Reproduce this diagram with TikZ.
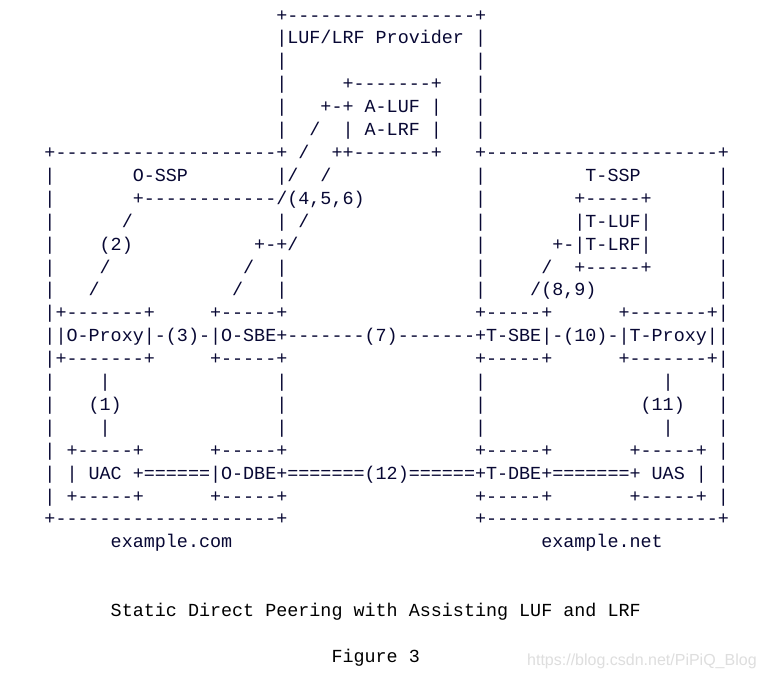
\documentclass[tikz,border=0pt]{standalone}
\usepackage{fontspec}
\newfontfamily\artfont[Ligatures=TeXOff]{Liberation Mono}
\newfontfamily\wmfont{Liberation Sans}
\definecolor{artcol}{RGB}{8,8,52}
\definecolor{wmcol}{RGB}{222,222,222}
\tikzset{
  art/.style={anchor=base west, inner sep=0pt, outer sep=0pt, font=\artfont\fontsize{18.4}{22}\selectfont, text=artcol},
  captxt/.style={art, text=black},
  wm/.style={anchor=base west, inner sep=0pt, font=\wmfont\fontsize{16}{18}\selectfont, text=wmcol}
}
\newcommand\seg[4]{\node[art] (#1) at ({44.48+11.04*#2},{21.1+22.9*#3}) {#4};}
\newcommand\capseg[4]{\node[captxt] (#1) at ({44.48+11.04*#2},{21.1+22.9*#3}) {#4};}
\begin{document}
\begin{tikzpicture}[x=1pt,y=-1pt]
\fill[white] (0,0) rectangle (763,677);
\useasboundingbox (0,0) rectangle (763,677);
% row 0-5: LUF/LRF provider
\seg{r0a}{21}{0}{+-----------------+}
\seg{r1a}{21}{1}{|LUF/LRF Provider |}
\seg{r2a}{21}{2}{|}\seg{r2b}{39}{2}{|}
\seg{r3a}{21}{3}{|}\seg{r3b}{27}{3}{+-------+}\seg{r3c}{39}{3}{|}
\seg{r4a}{21}{4}{|}\seg{r4b}{25}{4}{+-+ A-LUF |}\seg{r4c}{39}{4}{|}
\seg{r5a}{21}{5}{|}\seg{r5b}{24}{5}{/}\seg{r5c}{27}{5}{| A-LRF |}\seg{r5d}{39}{5}{|}
% row 6
\seg{r6a}{0}{6}{+--------------------+}\seg{r6b}{23}{6}{/}\seg{r6c}{26}{6}{++-------+}\seg{r6d}{39}{6}{+---------------------+}
% row 7
\seg{r7a}{0}{7}{|}\seg{r7b}{8}{7}{O-SSP}\seg{r7c}{21}{7}{|/}\seg{r7d}{25}{7}{/}\seg{r7e}{39}{7}{|}\seg{r7f}{49}{7}{T-SSP}\seg{r7g}{61}{7}{|}
% row 8
\seg{r8a}{0}{8}{|}\seg{r8b}{8}{8}{+------------/(4,5,6)}\seg{r8c}{39}{8}{|}\seg{r8d}{48}{8}{+-----+}\seg{r8e}{61}{8}{|}
% row 9
\seg{r9a}{0}{9}{|}\seg{r9b}{7}{9}{/}\seg{r9c}{21}{9}{|}\seg{r9d}{23}{9}{/}\seg{r9e}{39}{9}{|}\seg{r9f}{48}{9}{|T-LUF|}\seg{r9g}{61}{9}{|}
% row 10
\seg{r10a}{0}{10}{|}\seg{r10b}{5}{10}{(2)}\seg{r10c}{19}{10}{+-+/}\seg{r10d}{39}{10}{|}\seg{r10e}{46}{10}{+-|T-LRF|}\seg{r10f}{61}{10}{|}
% row 11
\seg{r11a}{0}{11}{|}\seg{r11b}{5}{11}{/}\seg{r11c}{18}{11}{/}\seg{r11d}{21}{11}{|}\seg{r11e}{39}{11}{|}\seg{r11f}{45}{11}{/}\seg{r11g}{48}{11}{+-----+}\seg{r11h}{61}{11}{|}
% row 12
\seg{r12a}{0}{12}{|}\seg{r12b}{4}{12}{/}\seg{r12c}{17}{12}{/}\seg{r12d}{21}{12}{|}\seg{r12e}{39}{12}{|}\seg{r12f}{44}{12}{/(8,9)}\seg{r12g}{61}{12}{|}
% row 13-15
\seg{r13a}{0}{13}{|+-------+}\seg{r13b}{15}{13}{+-----+}\seg{r13c}{39}{13}{+-----+}\seg{r13d}{52}{13}{+-------+|}
\seg{r14a}{0}{14}{||O-Proxy|-(3)-|O-SBE+-------(7)-------+T-SBE|-(10)-|T-Proxy||}
\seg{r15a}{0}{15}{|+-------+}\seg{r15b}{15}{15}{+-----+}\seg{r15c}{39}{15}{+-----+}\seg{r15d}{52}{15}{+-------+|}
% row 16-18
\seg{r16a}{0}{16}{|}\seg{r16b}{5}{16}{|}\seg{r16c}{21}{16}{|}\seg{r16d}{39}{16}{|}\seg{r16e}{56}{16}{|}\seg{r16f}{61}{16}{|}
\seg{r17a}{0}{17}{|}\seg{r17b}{4}{17}{(1)}\seg{r17c}{21}{17}{|}\seg{r17d}{39}{17}{|}\seg{r17e}{54}{17}{(11)}\seg{r17f}{61}{17}{|}
\seg{r18a}{0}{18}{|}\seg{r18b}{5}{18}{|}\seg{r18c}{21}{18}{|}\seg{r18d}{39}{18}{|}\seg{r18e}{56}{18}{|}\seg{r18f}{61}{18}{|}
% row 19-21
\seg{r19a}{0}{19}{|}\seg{r19b}{2}{19}{+-----+}\seg{r19c}{15}{19}{+-----+}\seg{r19d}{39}{19}{+-----+}\seg{r19e}{53}{19}{+-----+}\seg{r19f}{61}{19}{|}
\seg{r20a}{0}{20}{| | UAC +======|O-DBE+=======(12)======+T-DBE+=======+ UAS | |}
\seg{r21a}{0}{21}{|}\seg{r21b}{2}{21}{+-----+}\seg{r21c}{15}{21}{+-----+}\seg{r21d}{39}{21}{+-----+}\seg{r21e}{53}{21}{+-----+}\seg{r21f}{61}{21}{|}
% row 22-23
\seg{r22a}{0}{22}{+--------------------+}\seg{r22b}{39}{22}{+---------------------+}
\seg{r23a}{6}{23}{example.com}\seg{r23b}{45}{23}{example.net}
% caption
\capseg{cap}{6}{26}{Static Direct Peering with Assisting LUF and LRF}
\capseg{fig}{26}{28}{Figure 3}
\node[wm] (wmark) at (527,665) {https://blog.csdn.net/PiPiQ\_Blog};
\end{tikzpicture}
\end{document}
